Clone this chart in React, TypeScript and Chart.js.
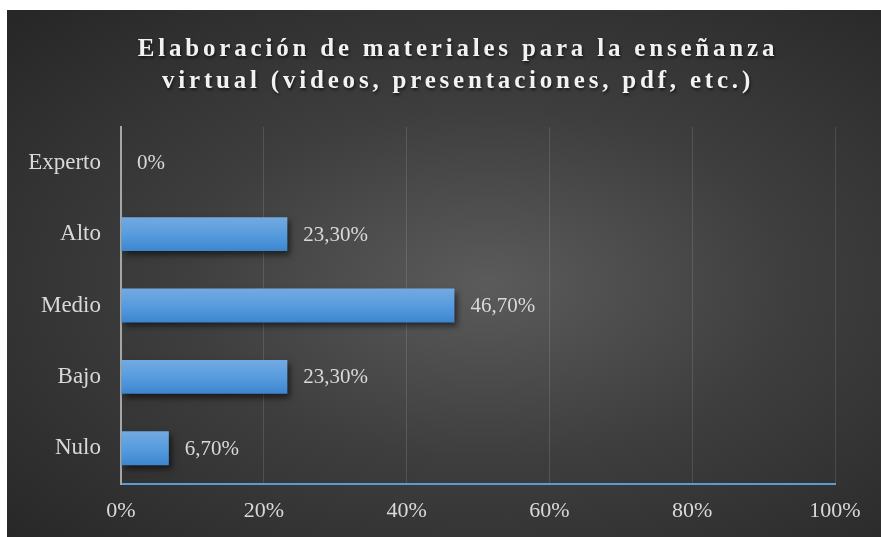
import React, { useEffect, useRef } from "react";
import { Chart, registerables } from "chart.js";

Chart.register(...registerables);

const titleLines = [
  "Elaboración de materiales para la enseñanza",
  "virtual (videos, presentaciones, pdf, etc.)",
];
const categories = ["Experto", "Alto", "Medio", "Bajo", "Nulo"];
const values = [0, 23.3, 46.7, 23.3, 6.7];
const valueLabels = ["0%", "23,30%", "46,70%", "23,30%", "6,70%"];
const xTicks = [0, 20, 40, 60, 80, 100];

const SERIF = "'Liberation Serif', 'Times New Roman', serif";

export default function App() {
  const ref = useRef<HTMLCanvasElement | null>(null);

  useEffect(() => {
    if (!ref.current) return;

    const titlePlugin = {
      id: "customTitle",
      afterDraw(chart: any) {
        const ctx = chart.ctx;
        ctx.save();
        ctx.font = `bold 25px ${SERIF}`;
        (ctx as any).letterSpacing = "3.8px";
        ctx.fillStyle = "#f2f2f2";
        ctx.textAlign = "center";
        ctx.textBaseline = "middle";
        ctx.shadowColor = "rgba(0,0,0,0.6)";
        ctx.shadowOffsetX = 1;
        ctx.shadowOffsetY = 2;
        ctx.shadowBlur = 3;
        titleLines.forEach((t, i) => ctx.fillText(t, 451, 40 + i * 32));
        ctx.restore();
      },
    };

    const shadowPlugin = {
      id: "barShadow",
      beforeDatasetDraw(chart: any) {
        const ctx = chart.ctx;
        ctx.save();
        ctx.shadowColor = "rgba(0,0,0,0.55)";
        ctx.shadowOffsetX = 3;
        ctx.shadowOffsetY = 4;
        ctx.shadowBlur = 6;
      },
      afterDatasetDraw(chart: any) {
        chart.ctx.restore();
      },
    };

    const labelPlugin = {
      id: "valueLabels",
      afterDatasetsDraw(chart: any) {
        const ctx = chart.ctx;
        const meta = chart.getDatasetMeta(0);
        ctx.save();
        ctx.font = `21px ${SERIF}`;
        ctx.fillStyle = "#d9d9d9";
        ctx.textAlign = "left";
        ctx.textBaseline = "middle";
        meta.data.forEach((bar: any, i: number) => {
          ctx.fillText(valueLabels[i], bar.x + 16, bar.y + 1);
        });
        ctx.restore();
      },
    };

    const chart = new Chart(ref.current, {
      type: "bar",
      data: {
        labels: categories,
        datasets: [
          {
            data: values,
            backgroundColor: (c: any) => {
              const chartObj = c.chart;
              const y = chartObj.scales?.y;
              if (!y || c.dataIndex === undefined) return "#5b9bd5";
              const cy = y.getPixelForTick(c.dataIndex);
              const g = chartObj.ctx.createLinearGradient(0, cy - 17, 0, cy + 17);
              g.addColorStop(0, "#73aae1");
              g.addColorStop(0.5, "#589cde");
              g.addColorStop(1, "#3c86cf");
              return g;
            },
            borderWidth: 0,
            barPercentage: 0.475,
            categoryPercentage: 1,
          },
        ],
      },
      options: {
        indexAxis: "y",
        animation: false,
        responsive: false,
        maintainAspectRatio: false,
        layout: { padding: { top: 117, right: 46, left: 0, bottom: 0 } },
        plugins: {
          legend: { display: false },
          title: { display: false },
          tooltip: { enabled: false },
        },
        scales: {
          x: {
            min: 0,
            max: 100,
            afterFit: (s: any) => {
              s.height = 53;
            },
            afterBuildTicks: (s: any) => {
              s.ticks = xTicks.map((v) => ({ value: v }));
            },
            ticks: {
              color: "#d9d9d9",
              font: { family: SERIF, size: 22 },
              padding: 14,
              callback: (v: any) => `${v}%`,
              maxRotation: 0,
            },
            grid: {
              color: "rgba(255,255,255,0.12)",
              lineWidth: 1,
              drawTicks: false,
            },
            border: { display: true, color: "#5b9bd5", width: 2 },
          },
          y: {
            afterFit: (s: any) => {
              s.width = 114;
            },
            ticks: {
              color: "#d9d9d9",
              font: { family: SERIF, size: 23 },
              padding: 20,
            },
            grid: { color: "rgba(0,0,0,0)", drawTicks: false },
            border: { display: true, color: "#a6a6a6", width: 2 },
          },
        },
      },
      plugins: [shadowPlugin, labelPlugin, titlePlugin],
    });

    return () => chart.destroy();
  }, []);

  return (
    <div
      style={{
        position: "absolute",
        left: 7,
        top: 10,
        width: 874,
        height: 527,
        background:
          "radial-gradient(ellipse farthest-corner at 55% 52%, #5b5b5b 0%, #3e3e3e 45%, #262626 100%)",
      }}
    >
      <canvas ref={ref} width={874} height={527} style={{ display: "block" }} />
    </div>
  );
}
